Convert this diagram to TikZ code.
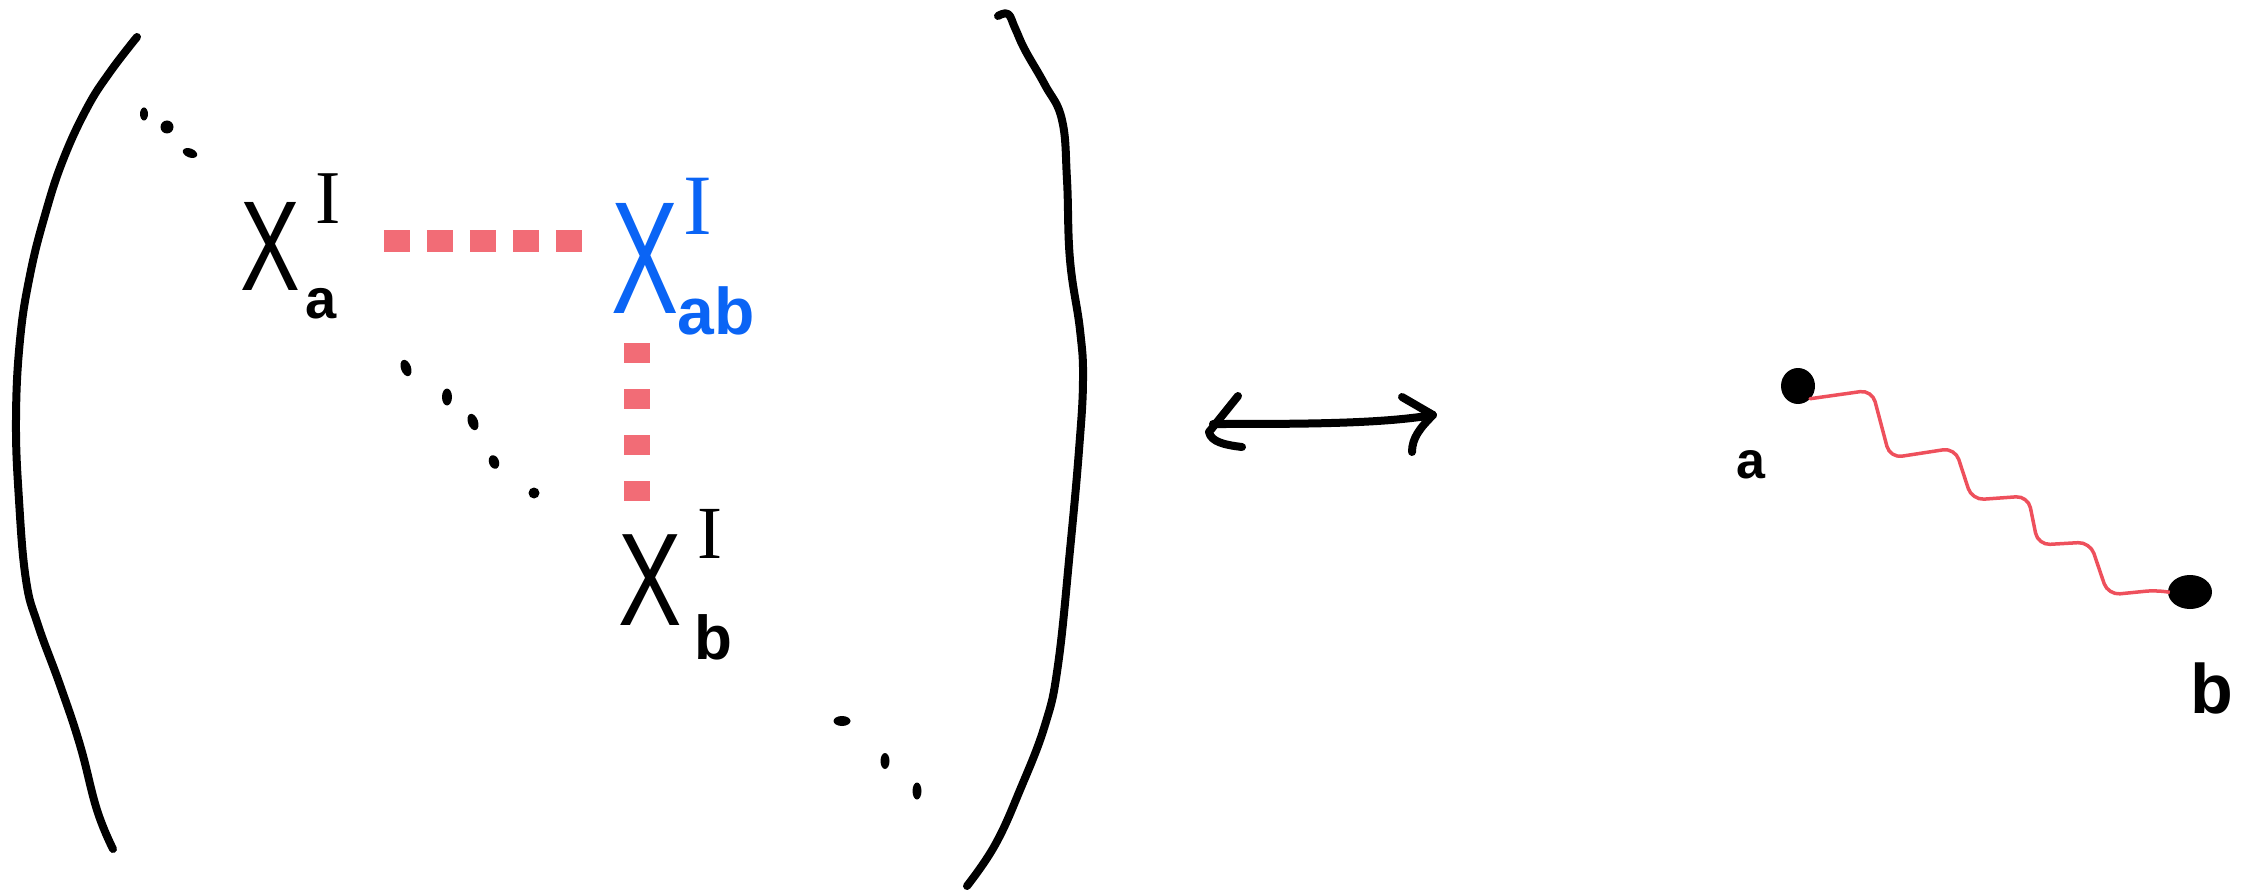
\documentclass[tikz,border=0pt]{standalone}
\usepackage{graphicx}
\usepackage{fontspec}
\setmainfont{Liberation Sans}
\newfontfamily\serifI{Liberation Serif}
\usetikzlibrary{shapes.geometric}
\definecolor{inkblue}{RGB}{10,100,245}
\definecolor{dashred}{RGB}{242,108,118}
\definecolor{wigred}{RGB}{238,80,92}
\newcommand{\fs}[1]{\fontsize{#1}{#1}\selectfont}
\begin{document}
\begin{tikzpicture}[x=1pt,y=-1pt,
  ink/.style={line width=8pt, line cap=round, line join=round},
  glyph/.style={inner sep=0pt, outer sep=0pt},
  dashh/.style={draw=dashred, line width=22pt, dash pattern=on 26pt off 17pt},
  dashv/.style={draw=dashred, line width=26pt, dash pattern=on 20pt off 26pt},
  wig/.style={draw=wigred, line width=3.5pt, rounded corners=12pt, line cap=round},
  dotnode/.style={ellipse, fill=black, inner sep=0pt, outer sep=0pt}]
\useasboundingbox (0,0) rectangle (2254,893);

% left parenthesis
\draw[ink] plot[smooth, tension=0.7] coordinates {(137,37) (110,72) (87,108) (63,160) (45,215) (30,275) (20,340) (16,420) (19,500) (26,580) (38,625) (60,685) (80,745) (97,810) (113,849)};
% right parenthesis
\draw[ink] plot[smooth, tension=0.7] coordinates {(998,16) (1008,14) (1015,28) (1025,50) (1045,85) (1062,120) (1067,180) (1070,260) (1080,330) (1083,380) (1079,450) (1070,550) (1058,665) (1045,725) (1020,790) (995,845) (967,886)};

% dots
\fill (144,114) ellipse [x radius=4, y radius=6.5];
\fill (167,127) ellipse [x radius=6.5, y radius=6.5];
\fill (190,153) ellipse [x radius=7.5, y radius=4.5, rotate=-20];
\fill (406,368) ellipse [x radius=5, y radius=8.5, rotate=20];
\fill (447,397) ellipse [x radius=5, y radius=8.5];
\fill (473,422) ellipse [x radius=5, y radius=8.5, rotate=20];
\fill (494,462) ellipse [x radius=5, y radius=7, rotate=20];
\fill (534,493) ellipse [x radius=5.5, y radius=5.5];
\fill (842,721) ellipse [x radius=8.5, y radius=5];
\fill (885,761) ellipse [x radius=4.5, y radius=8];
\fill (917,791) ellipse [x radius=4.5, y radius=8.5];

% X^I_a
\node[glyph] (Xa) at (270,246) {\fs{128}\scalebox{0.7}[1]{X}};
\node[glyph] (XaI) at (328,199) {\serifI\fs{76}I};
\node[glyph] (Xaa) at (321,304) {\fs{56}\bfseries a};
% X^I_ab (blue)
\node[glyph, text=inkblue] (Xab) at (645,258) {\fs{160}\scalebox{0.63}[1]{X}};
\node[glyph, text=inkblue] (XabI) at (698,206) {\serifI\fs{86}I};
\node[glyph, text=inkblue] (Xabab) at (716,311) {\fs{66}\bfseries ab};
% X^I_b
\node[glyph] (Xb) at (650,580) {\fs{132}\scalebox{0.72}[1]{X}};
\node[glyph] (XbI) at (710,534) {\serifI\fs{75}I};
\node[glyph] (Xbb) at (713,637) {\fs{62}\bfseries b};

% red dashed connectors
\coordinate (h1) at ([yshift=5pt]Xa.east);
\draw[dashh, shorten <=84pt, shorten >=28pt] (h1) -- (h1 -| Xab.west);
\coordinate (v1) at ([xshift=-8pt]Xab.south);
\draw[dashv, shorten <=30pt, shorten >=30pt] (v1) -- (v1 |- Xb.north);

% double arrow
\coordinate (arL) at (1213,424);
\coordinate (arR) at (1433,415);
\draw[ink] (arL) .. controls (1300,424) and (1380,424) .. (arR);
\draw[ink] (1238,396) -- (1209,432) .. controls (1211,442) and (1225,445) .. (1242,447);
\draw[ink] (1402,397) -- (arR) .. controls (1420,428) and (1412,438) .. (1412,452);

% right graph
\node[dotnode, minimum width=34pt, minimum height=36pt] (da) at (1798,386) {};
\node[dotnode, minimum width=44pt, minimum height=34pt] (db) at (2190,592) {};
\node[glyph] (la) at (1751,465) {\fs{52}\bfseries a};
\node[glyph] (lb) at (2212,688) {\fs{70}\bfseries b};
\draw[wig] (da.south east) -- (1872,390) -- (1890,458) -- (1955,448) -- (1972,500) -- (2028,496) -- (2038,545) -- (2090,542) -- (2108,595) -- (2158,590) -- (db.west);
\end{tikzpicture}
\end{document}
